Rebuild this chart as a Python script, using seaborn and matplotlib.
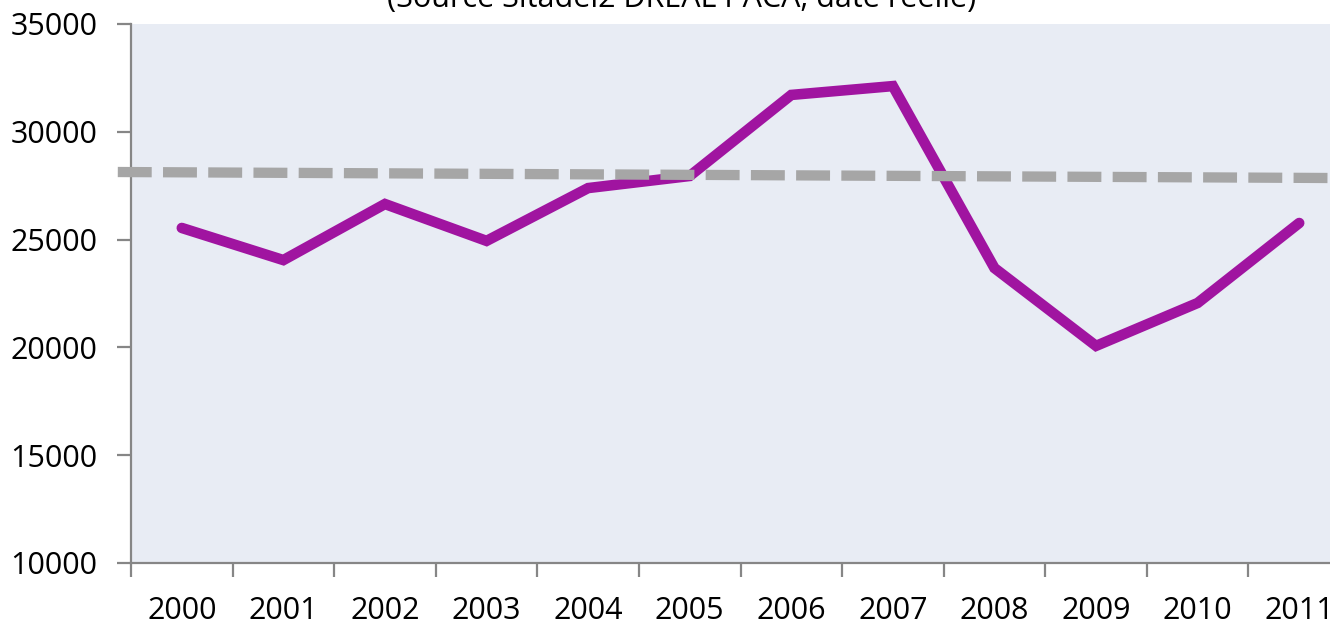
import numpy as np
import pandas as pd
import matplotlib
matplotlib.use("Agg")
import matplotlib.pyplot as plt
import seaborn as sns

years = ["2000", "2001", "2002", "2003", "2004", "2005",
         "2006", "2007", "2008", "2009", "2010", "2011"]
values = [25540, 24050, 26650, 24940, 27390, 27950,
          31710, 32120, 23680, 20070, 22060, 25770]
trend_pos = [-0.63, 11.6]
trend_vals = [28135, 27850]
title = "(Source Sitadel2 DREAL PACA, date réelle)"

sns.set_theme(style="white")
plt.rcParams['font.family'] = ['Open Sans', 'DejaVu Sans']

W, H = 1330, 628
fig = plt.figure(figsize=(W / 100, H / 100), dpi=100)
ax = fig.add_axes([131 / W, (H - 563) / H, (1350 - 131) / W, (563 - 24) / H])
ax.set_facecolor("#E8ECF4")

df = pd.DataFrame({"pos": np.arange(len(years)), "val": values})
sns.lineplot(data=df, x="pos", y="val", ax=ax, color="#A014A0", linewidth=7.6,
             solid_capstyle="round", solid_joinstyle="miter", zorder=3)

tdf = pd.DataFrame({"pos": trend_pos, "val": trend_vals})
sns.lineplot(data=tdf, x="pos", y="val", ax=ax, color="#A6A6A6", linewidth=7.4,
             zorder=4, clip_on=False)
ax.lines[-1].set_dashes([3.3, 1.1])
ax.lines[-1].set_dash_capstyle("butt")

ax.set_xlim(-0.5, len(years) - 0.5)
ax.set_ylim(10000, 35000)
ax.set_yticks(np.arange(10000, 35001, 5000))
ax.set_xlabel("")
ax.set_ylabel("")

# category labels at centers, tick marks at boundaries
ax.set_xticks(np.arange(len(years)))
ax.set_xticklabels(years)
ax.set_xticks(np.arange(-0.5, len(years), 1.0), minor=True)
ax.tick_params(axis="x", which="major", length=0, pad=24, labelsize=22, labelcolor="black")
ax.tick_params(axis="x", which="minor", length=10, width=1.6, color="#868686", direction="out")
ax.tick_params(axis="y", length=10, width=1.6, color="#868686", direction="out",
               pad=14, labelsize=22, labelcolor="black")
ax.tick_params(bottom=True, left=True, which="both")

for s in ["top", "right"]:
    ax.spines[s].set_visible(False)
for s in ["left", "bottom"]:
    ax.spines[s].set_color("#868686")
    ax.spines[s].set_linewidth(1.6)

fig.text(682 / W, 1 - 14 / H, title, ha="center", va="bottom", fontsize=22, color="black")

fig.savefig("out.png", dpi=100)
